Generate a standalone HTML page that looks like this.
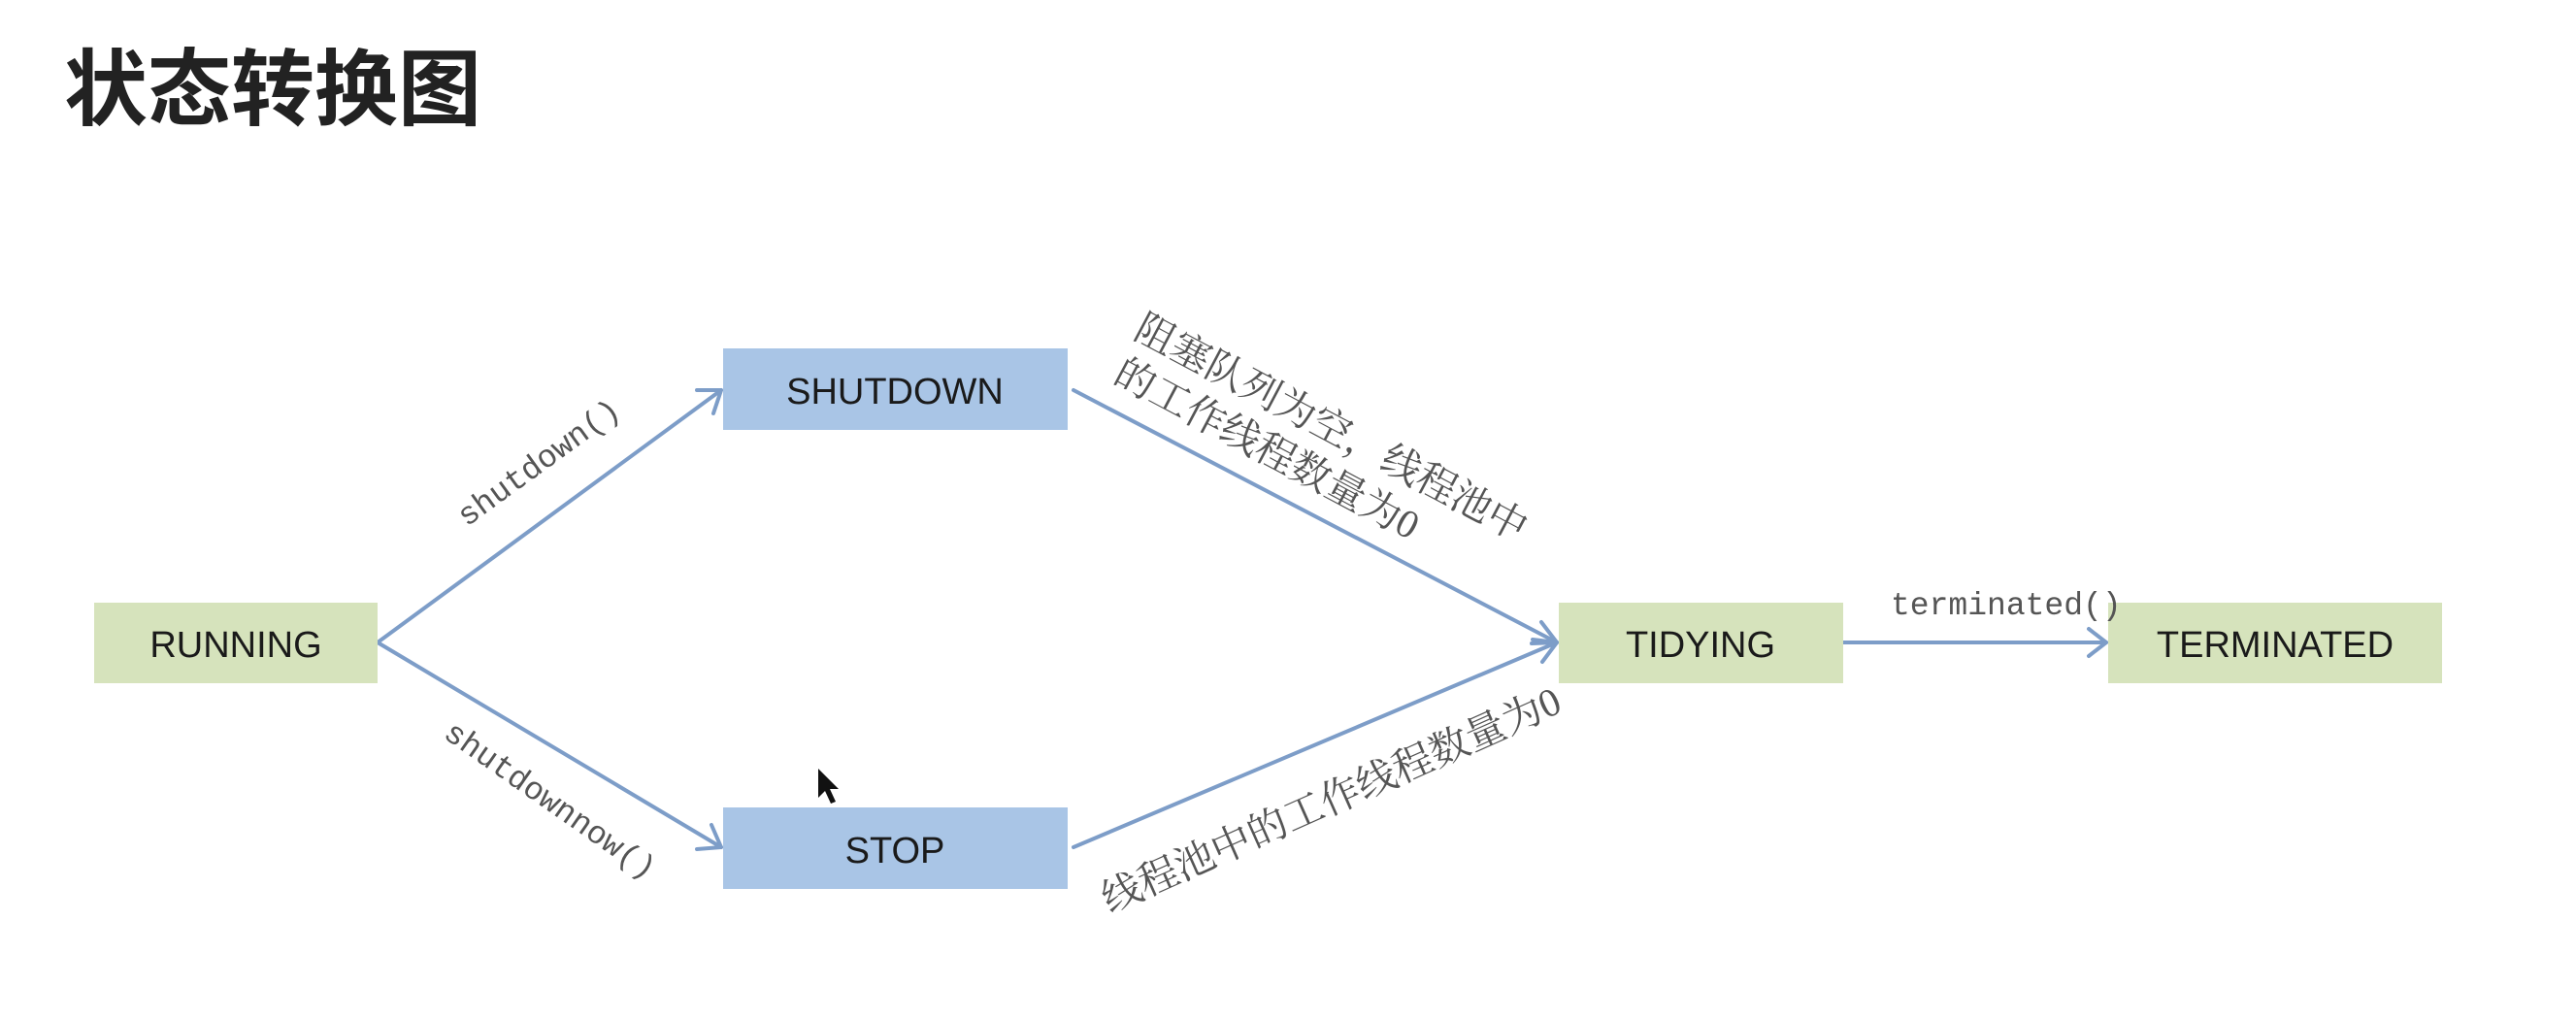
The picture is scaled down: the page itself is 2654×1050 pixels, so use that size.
<!DOCTYPE html>
<html><head><meta charset="utf-8"><style>
html,body{margin:0;padding:0;background:#fff;}
svg{display:block;}
</style></head><body>
<svg width="2654" height="1050" viewBox="0 0 2654 1050" xmlns="http://www.w3.org/2000/svg">
<text x="66" y="122" font-family="'Liberation Sans','Noto Sans CJK SC',sans-serif" font-size="86" font-weight="bold" fill="#222">状态转换图</text>

<g stroke="#7d9dc8" stroke-width="4" fill="none" stroke-linecap="round" stroke-linejoin="round">
<line x1="389" y1="662" x2="743" y2="402"/>
<polyline points="718,402 743,402 735,426"/>
<line x1="389" y1="662" x2="743" y2="873"/>
<polyline points="733,850 743,873 718,875"/>
<line x1="1106" y1="402" x2="1604" y2="662"/>
<polyline points="1588,641 1604,662 1578,663"/>
<line x1="1106" y1="873" x2="1604" y2="662"/>
<polyline points="1579,659 1604,662 1589,682"/>
<line x1="1899" y1="662" x2="2170" y2="662"/>
<polyline points="2152,648 2170,662 2152,676"/>
</g>

<g font-family="'Liberation Sans','Noto Sans CJK SC',sans-serif" font-size="38" fill="#1a1a1a" text-anchor="middle">
<rect x="97" y="621" width="292" height="83" fill="#d6e3bc"/>
<text x="243" y="677">RUNNING</text>
<rect x="745" y="359" width="355" height="84" fill="#a9c5e6"/>
<text x="922" y="416">SHUTDOWN</text>
<rect x="745" y="832" width="355" height="84" fill="#a9c5e6"/>
<text x="922" y="889">STOP</text>
<rect x="1606" y="621" width="293" height="83" fill="#d6e3bc"/>
<text x="1752" y="677">TIDYING</text>
<rect x="2172" y="621" width="344" height="83" fill="#d6e3bc"/>
<text x="2344" y="677">TERMINATED</text>
</g>

<g font-family="'Liberation Mono',monospace" font-size="33" fill="#555">
<text x="561" y="485" text-anchor="middle" transform="rotate(-36 561 485)">shutdown()</text>
<text x="561" y="833" text-anchor="middle" transform="rotate(35 561 833)">shutdownnow()</text>
<text x="1948" y="633">terminated()</text>
</g>

<g font-family="'Liberation Serif','Noto Serif CJK SC',serif" font-size="41" fill="#555">
<text x="1166" y="347" transform="rotate(28 1166 347)">阻塞队列为空，线程池中</text>
<text x="1145" y="393" transform="rotate(28 1145 393)">的工作线程数量为0</text>
<text x="1143" y="941" transform="rotate(-24 1143 941)">线程池中的工作线程数量为0</text>
</g>

<polygon points="843,792 843,822 850,815 856,828 861,826 855,813 864,813" fill="#111"/>
</svg>
</body></html>
